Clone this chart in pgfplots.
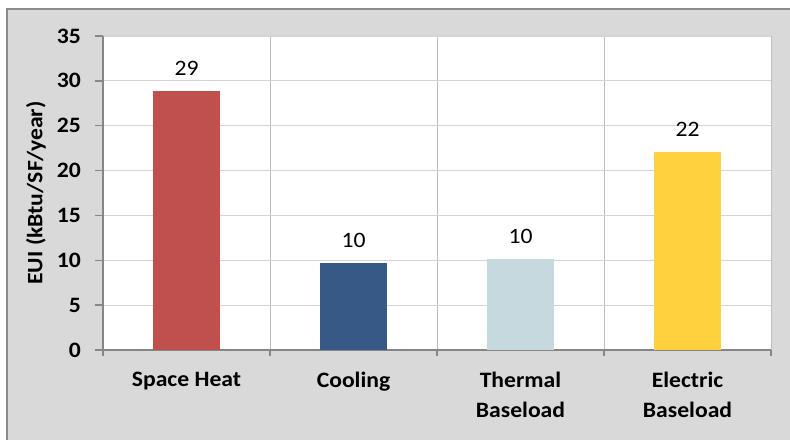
\documentclass[border=0pt]{standalone}
\usepackage{pgfplots}
\pgfplotsset{compat=1.18}
\usepackage{fontspec}
\setmainfont{Carlito}[FakeStretch=1.075]

\definecolor{frameFill}{HTML}{D9D9D9}
\definecolor{frameLine}{HTML}{8C8C8C}
\definecolor{axisLine}{HTML}{868686}
\definecolor{gridLight}{HTML}{D4D4D4}
\definecolor{gridDark}{HTML}{BDBDBD}
\definecolor{heatRed}{HTML}{C0504D}
\definecolor{coolBlue}{HTML}{365A85}
\definecolor{thermalBlue}{HTML}{C5D9DF}
\definecolor{elecYellow}{HTML}{FFD13F}

\begin{document}
\begin{tikzpicture}[x=1pt,y=1pt]
\useasboundingbox (0,0) rectangle (790,440);
\fill[white] (0,0) rectangle (790,440);
\fill[frameFill] (7,0) rectangle (790,431);
\draw[frameLine, line width=1.2pt] (7,0) -- (7,431) -- (790,431);
\begin{axis}[
  at={(103pt,90pt)}, anchor=south west,
  scale only axis, width=668pt, height=314pt,
  xmin=-0.5, xmax=3.5, ymin=0, ymax=35,
  axis background/.style={fill=white},
  axis x line*=bottom, axis y line*=left,
  axis line style={color=axisLine, line width=1.3pt},
  every tick/.style={color=axisLine, line width=1.3pt},
  tick align=outside,
  major tick length=8pt, minor tick length=6pt,
  xtick={0,1,2,3},
  xticklabels={Space Heat, Cooling, Thermal\\Baseload, Electric\\Baseload},
  major x tick style={draw=none},
  minor xtick={-0.5,0.5,1.5,2.5,3.5},
  xminorgrids, ymajorgrids,
  minor x grid style={color=gridDark, line width=0.9pt},
  major y grid style={color=gridLight, line width=1.2pt},
  ytick={0,5,...,35},
  /pgf/number format/assume math mode=true,
  yticklabel style={font=\bfseries\fontsize{22}{26}\selectfont, inner sep=0pt, xshift=-14pt},
  xticklabel style={font=\bfseries\fontsize{22}{30}\selectfont, align=center, anchor=north, inner sep=0pt, yshift=-14pt},
  ylabel={EUI (kBtu/SF/year)},
  ylabel style={font=\bfseries\fontsize{22}{26}\selectfont, at={(axis description cs:-0.1003,0.5)}, anchor=center},
  nodes near coords={\pgfmathprintnumber[fixed,precision=0]{\pgfplotspointmeta}},
  nodes near coords style={font=\fontsize{22}{26}\selectfont, inner sep=0pt, anchor=south, yshift=15pt, text=black},
]
\addplot[ybar, bar width=0.4, bar shift=0pt, fill=heatRed, draw=none] coordinates {(0,28.87)};
\addplot[ybar, bar width=0.4, bar shift=0pt, fill=coolBlue, draw=none] coordinates {(1,9.72)};
\addplot[ybar, bar width=0.4, bar shift=0pt, fill=thermalBlue, draw=none] coordinates {(2,10.12)};
\addplot[ybar, bar width=0.4, bar shift=0pt, fill=elecYellow, draw=none] coordinates {(3,22.07)};
\end{axis}
\end{tikzpicture}
\end{document}
